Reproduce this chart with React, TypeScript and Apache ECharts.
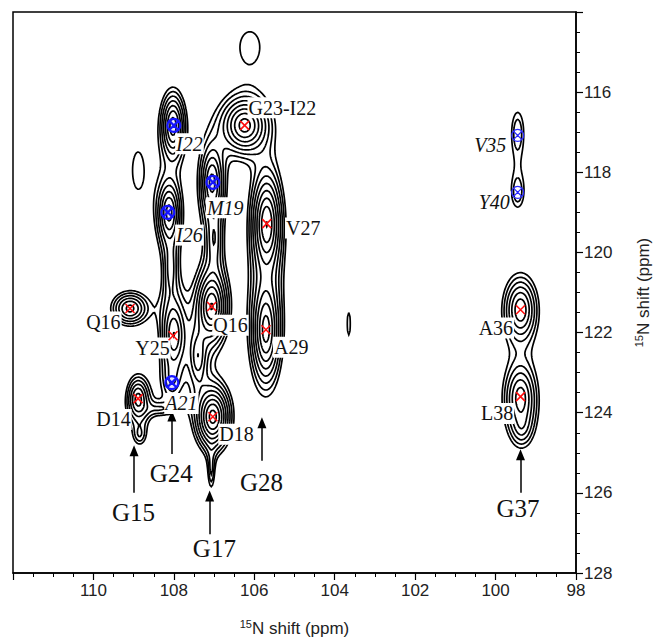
import React, { useEffect, useRef } from 'react';
import * as echarts from 'echarts';

// ---- Spectrum model: peaks (ppm) ----
// I22, I26, Y25, M19, Q16, D18, mid-B, G17 tail, G23-I22, V27, A29, Q16, D14, G15 tail, G24 bridge,
// lone1, lone2, lone3, V35, Y40, A36, L38, G37 tail, A21, bridge A, bridge B, V35/Y40 bridge
const PEAK_X = [108.02, 108.12, 108.0, 107.05, 107.06, 107.03, 107.4, 107.07, 106.24, 105.69, 105.71, 109.09, 108.89, 108.85, 108.35, 108.9, 106.11, 103.65, 99.45, 99.45, 99.38, 99.38, 99.35, 108.05, 108.08, 107.0, 99.46];
const PEAK_Y = [116.85, 119.0, 122.05, 118.25, 121.35, 124.1, 122.6, 125.45, 116.83, 119.28, 121.93, 121.4, 123.65, 124.55, 123.9, 117.95, 114.85, 121.78, 117.0, 118.5, 121.43, 123.6, 124.35, 123.2, 120.4, 119.7, 117.8];
const PEAK_SX = [0.135, 0.135, 0.15, 0.14, 0.16, 0.17, 0.12, 0.06, 0.25, 0.16, 0.16, 0.22, 0.14, 0.12, 0.25, 0.22, 0.36, 0.085, 0.13, 0.13, 0.2, 0.2, 0.16, 0.15, 0.11, 0.12, 0.12];
const PEAK_SY = [0.38, 0.38, 0.45, 0.45, 0.38, 0.32, 0.4, 0.35, 0.3, 0.55, 0.6, 0.2, 0.28, 0.2, 0.12, 0.75, 0.55, 0.62, 0.45, 0.33, 0.4, 0.42, 0.3, 0.3, 0.5, 0.5, 0.3];
const PEAK_H = [5.5, 5, 4.5, 5, 8, 9, 3, 1.5, 7, 8, 7, 4, 4, 1.4, 1.3, 1.15, 1.2, 1.1, 1.6, 1.5, 4.5, 4, 1.6, 1.5, 2, 2.2, 0.15];
const LEVELS = [1, 1.3, 1.69, 2.2, 2.86, 3.71, 4.83, 6.27, 8.16, 10.6];

// ---- Assignments ----
const RED_X = [106.24, 105.69, 109.09, 108.02, 107.06, 105.71, 108.89, 107.03, 99.38, 99.38];
const RED_Y = [116.83, 119.28, 121.4, 122.08, 121.35, 121.93, 123.65, 124.1, 121.43, 123.6];
const BLUE_X = [108.0, 108.15, 107.03, 108.05];
const BLUE_Y = [116.83, 119.0, 118.25, 123.25];
const BLUE2_X = [99.45, 99.45];
const BLUE2_Y = [117.08, 118.5];

const LABEL_TEXT = ['G23-I22', 'V27', 'Q16', 'Q16', 'Y25', 'A29', 'D14', 'D18', 'A36', 'L38'];
const LABEL_X = [105.29, 104.77, 109.74, 106.58, 108.52, 105.07, 109.49, 106.43, 99.98, 99.95];
const LABEL_Y = [116.4, 119.4, 121.75, 121.83, 122.4, 122.38, 124.18, 124.55, 121.9, 124.03];
const ITALIC_TEXT = ['I22', 'M19', 'I26', 'A21', 'V35', 'Y40'];
const ITALIC_X = [107.6, 106.71, 107.6, 107.8, 100.12, 100.02];
const ITALIC_Y = [117.3, 118.9, 119.58, 123.78, 117.33, 118.75];
const GLY_TEXT = ['G15', 'G24', 'G17', 'G28', 'G37'];
const GLY_X = [108.99, 108.05, 106.98, 105.81, 99.43];
const GLY_Y = [126.5, 125.53, 127.4, 125.75, 126.4];
const ARROW_X = [108.99, 108.05, 107.11, 105.81, 99.38];
const ARROW_Y0 = [126.0, 125.03, 127.03, 125.2, 126.0];
const ARROW_Y1 = [124.95, 124.08, 126.08, 124.25, 125.05];

const X_TICKS_HIDDEN = [112];
const Y_TICKS_HIDDEN = [114];

function buildContours(): number[][][] {
  const X0 = 97.8, Y0 = 113.8, D = 0.03;
  const nx = Math.round((112.2 - X0) / D) + 1;
  const ny = Math.round((128.2 - Y0) / D) + 1;
  const f = new Float64Array(nx * ny);
  for (let j = 0; j < ny; j++) {
    const y = Y0 + j * D;
    for (let i = 0; i < nx; i++) {
      const x = X0 + i * D;
      let s = 0;
      for (let k = 0; k < PEAK_X.length; k++) {
        const u = (x - PEAK_X[k]) / PEAK_SX[k];
        const v = (y - PEAK_Y[k]) / PEAK_SY[k];
        const r2 = u * u + v * v;
        if (r2 < 900) s += PEAK_H[k] * Math.exp(1 - Math.sqrt(1 + r2));
      }
      f[j * nx + i] = s;
    }
  }
  const H = nx * ny;
  const out: number[][][] = [];
  for (const L of LEVELS) {
    const segA: number[] = [], segB: number[] = [];
    const map = new Map<number, number[]>();
    const push = (e: number, k: number) => {
      let l = map.get(e);
      if (!l) { l = []; map.set(e, l); }
      l.push(k);
    };
    const add = (a: number, b: number) => {
      const k = segA.length; segA.push(a); segB.push(b); push(a, k); push(b, k);
    };
    for (let j = 0; j < ny - 1; j++) {
      for (let i = 0; i < nx - 1; i++) {
        const v00 = f[j * nx + i], v10 = f[j * nx + i + 1], v01 = f[(j + 1) * nx + i], v11 = f[(j + 1) * nx + i + 1];
        let c = 0;
        if (v00 > L) c |= 1; if (v10 > L) c |= 2; if (v11 > L) c |= 4; if (v01 > L) c |= 8;
        if (c === 0 || c === 15) continue;
        const B = j * nx + i, T = (j + 1) * nx + i, Lf = H + j * nx + i, R = H + j * nx + i + 1;
        const ctr = (v00 + v10 + v01 + v11) / 4;
        switch (c) {
          case 1: case 14: add(Lf, B); break;
          case 2: case 13: add(B, R); break;
          case 3: case 12: add(Lf, R); break;
          case 4: case 11: add(R, T); break;
          case 6: case 9: add(B, T); break;
          case 7: case 8: add(Lf, T); break;
          case 5: if (ctr > L) { add(Lf, T); add(B, R); } else { add(Lf, B); add(R, T); } break;
          case 10: if (ctr > L) { add(B, Lf); add(T, R); } else { add(B, R); add(T, Lf); } break;
        }
      }
    }
    const pt = (e: number) => {
      if (e < H) {
        const j = Math.floor(e / nx), i = e % nx;
        const a = f[e], b = f[e + 1];
        const t = (L - a) / (b - a);
        return [+(X0 + (i + t) * D).toFixed(4), +(Y0 + j * D).toFixed(4)];
      }
      const e2 = e - H;
      const j = Math.floor(e2 / nx), i = e2 % nx;
      const a = f[e2], b = f[e2 + nx];
      const t = (L - a) / (b - a);
      return [+(X0 + i * D).toFixed(4), +(Y0 + (j + t) * D).toFixed(4)];
    };
    const used = new Uint8Array(segA.length);
    const walk = (start: number, arr: number[]) => {
      let cur = start;
      for (;;) {
        const l = map.get(cur)!;
        let nk = -1;
        for (const k of l) if (!used[k]) { nk = k; break; }
        if (nk < 0) break;
        used[nk] = 1;
        cur = segA[nk] === cur ? segB[nk] : segA[nk];
        arr.push(cur);
      }
    };
    for (let s = 0; s < segA.length; s++) {
      if (used[s]) continue;
      used[s] = 1;
      const fwd = [segA[s], segB[s]];
      walk(segB[s], fwd);
      const back: number[] = [];
      walk(segA[s], back);
      const chain = back.reverse().concat(fwd);
      out.push(chain.map(pt));
    }
  }
  return out;
}

const SERIF = '"Liberation Serif", "Times New Roman", serif';
const SANS = '"Liberation Sans", Arial, sans-serif';

function labelSeries(texts: string[], xs: number[], ys: number[], size: number, italic: boolean, bg: boolean) {
  return {
    type: 'scatter',
    symbolSize: 1,
    itemStyle: { color: 'rgba(0,0,0,0)', opacity: 1 },
    silent: true,
    z: 5,
    data: texts.map((t, i) => [xs[i], ys[i], t]),
    label: {
      show: true,
      position: [0, 0],
      align: 'center',
      verticalAlign: 'middle',
      formatter: (p: any) => p.data[2],
      fontFamily: SERIF,
      fontSize: size,
      fontStyle: italic ? 'italic' : 'normal',
      color: '#111',
      opacity: 1,
      textBorderWidth: 0,
      textShadowBlur: 0,
      backgroundColor: bg ? '#ffffff' : 'transparent',
      padding: [1, 1, 0, 1],
      lineHeight: size,
    },
  };
}

const RICH = {
  s: { fontSize: 11, fontFamily: SANS, color: '#222', verticalAlign: 'top', lineHeight: 12 },
  n: { fontSize: 17, fontFamily: SANS, color: '#222', lineHeight: 20 },
};

export default function App() {
  const ref = useRef<HTMLDivElement>(null);
  useEffect(() => {
    const chart = echarts.init(ref.current!, null, { renderer: 'svg' });
    const contours = buildContours();
    const option: any = {
      animation: false,
      grid: { left: 13, right: 77, top: 12, bottom: 67, containLabel: false, outerBoundsMode: 'none', show: true, borderColor: '#000', borderWidth: 1.5, backgroundColor: 'transparent' },
      xAxis: {
        type: 'value', min: 98, max: 112, interval: 2, inverse: true, position: 'bottom',
        axisLine: { show: true, lineStyle: { color: '#000', width: 1.5 } },
        axisTick: { show: true, length: 7, lineStyle: { color: '#000', width: 1.2 } },
        minorTick: { show: true, splitNumber: 4, length: 4, lineStyle: { color: '#000', width: 1 } },
        splitLine: { show: false },
        axisLabel: { fontSize: 17, fontFamily: SANS, color: '#222', margin: 9, formatter: (v: number) => (X_TICKS_HIDDEN.includes(v) ? '' : String(v)) },
        name: '{s|15}{n|N shift (ppm)}', nameLocation: 'middle', nameGap: 45,
        nameTextStyle: { fontSize: 17, fontFamily: SANS, color: '#222', rich: RICH },
      },
      yAxis: {
        type: 'value', min: 114, max: 128, interval: 2, inverse: true, position: 'right',
        axisLine: { show: true, lineStyle: { color: '#000', width: 1.5 } },
        axisTick: { show: true, length: 7, lineStyle: { color: '#000', width: 1.2 } },
        minorTick: { show: true, splitNumber: 4, length: 4, lineStyle: { color: '#000', width: 1 } },
        splitLine: { show: false },
        axisLabel: { fontSize: 17, fontFamily: SANS, color: '#222', margin: 8, formatter: (v: number) => (Y_TICKS_HIDDEN.includes(v) ? '' : String(v)) },
        name: '{s|15}{n|N shift (ppm)}', nameLocation: 'middle', nameGap: 57, nameRotate: 90,
        nameTextStyle: { fontSize: 17, fontFamily: SANS, color: '#222', rich: RICH },
      },
      series: [
        {
          type: 'lines', coordinateSystem: 'cartesian2d', polyline: true, silent: true, z: 2,
          data: contours.map((c) => ({ coords: c })),
          lineStyle: { color: '#000', width: 1.7, opacity: 1 },
        },
        labelSeries(LABEL_TEXT, LABEL_X, LABEL_Y, 20, false, true),
        labelSeries(ITALIC_TEXT, ITALIC_X, ITALIC_Y, 20, true, true),
        {
          ...labelSeries(GLY_TEXT, GLY_X, GLY_Y, 25, false, false),
          markLine: {
            silent: true, symbol: ['none', 'triangle'], symbolSize: [9, 11],
            label: { show: false },
            lineStyle: { type: 'solid', color: '#000', width: 1.5, opacity: 1 },
            itemStyle: { color: '#000', opacity: 1 },
            emphasis: { disabled: true },
            data: ARROW_X.map((x, i) => [{ coord: [x, ARROW_Y0[i]] }, { coord: [x, ARROW_Y1[i]] }]),
          },
        },
        {
          type: 'scatter', silent: true, z: 6,
          symbol: 'path://M0,0L10,10M10,0L0,10', symbolSize: 9,
          itemStyle: { color: 'none', borderColor: '#ff1010', borderWidth: 1.6, opacity: 1 },
          data: RED_X.map((x, i) => [x, RED_Y[i]]),
        },
        {
          type: 'scatter', silent: true, z: 6,
          symbol: 'path://M10,5A5,5,0,1,1,0,5A5,5,0,1,1,10,5ZM1.7,1.7L8.3,8.3M8.3,1.7L1.7,8.3', symbolSize: 13,
          itemStyle: { color: 'rgba(80,80,255,0.15)', borderColor: '#1515ff', borderWidth: 2.2, opacity: 1 },
          data: BLUE_X.map((x, i) => [x, BLUE_Y[i]]),
        },
        {
          type: 'scatter', silent: true, z: 6,
          symbol: 'path://M10,5A5,5,0,1,1,0,5A5,5,0,1,1,10,5ZM1.7,1.7L8.3,8.3M8.3,1.7L1.7,8.3', symbolSize: 12,
          itemStyle: { color: 'none', borderColor: '#2a2aff', borderWidth: 1.2, opacity: 1 },
          data: BLUE2_X.map((x, i) => [x, BLUE2_Y[i]]),
        },
      ],
    };
    chart.setOption(option);
    return () => chart.dispose();
  }, []);
  return <div ref={ref} style={{ position: 'absolute', left: 0, top: 0, width: 653, height: 640 }} />;
}
